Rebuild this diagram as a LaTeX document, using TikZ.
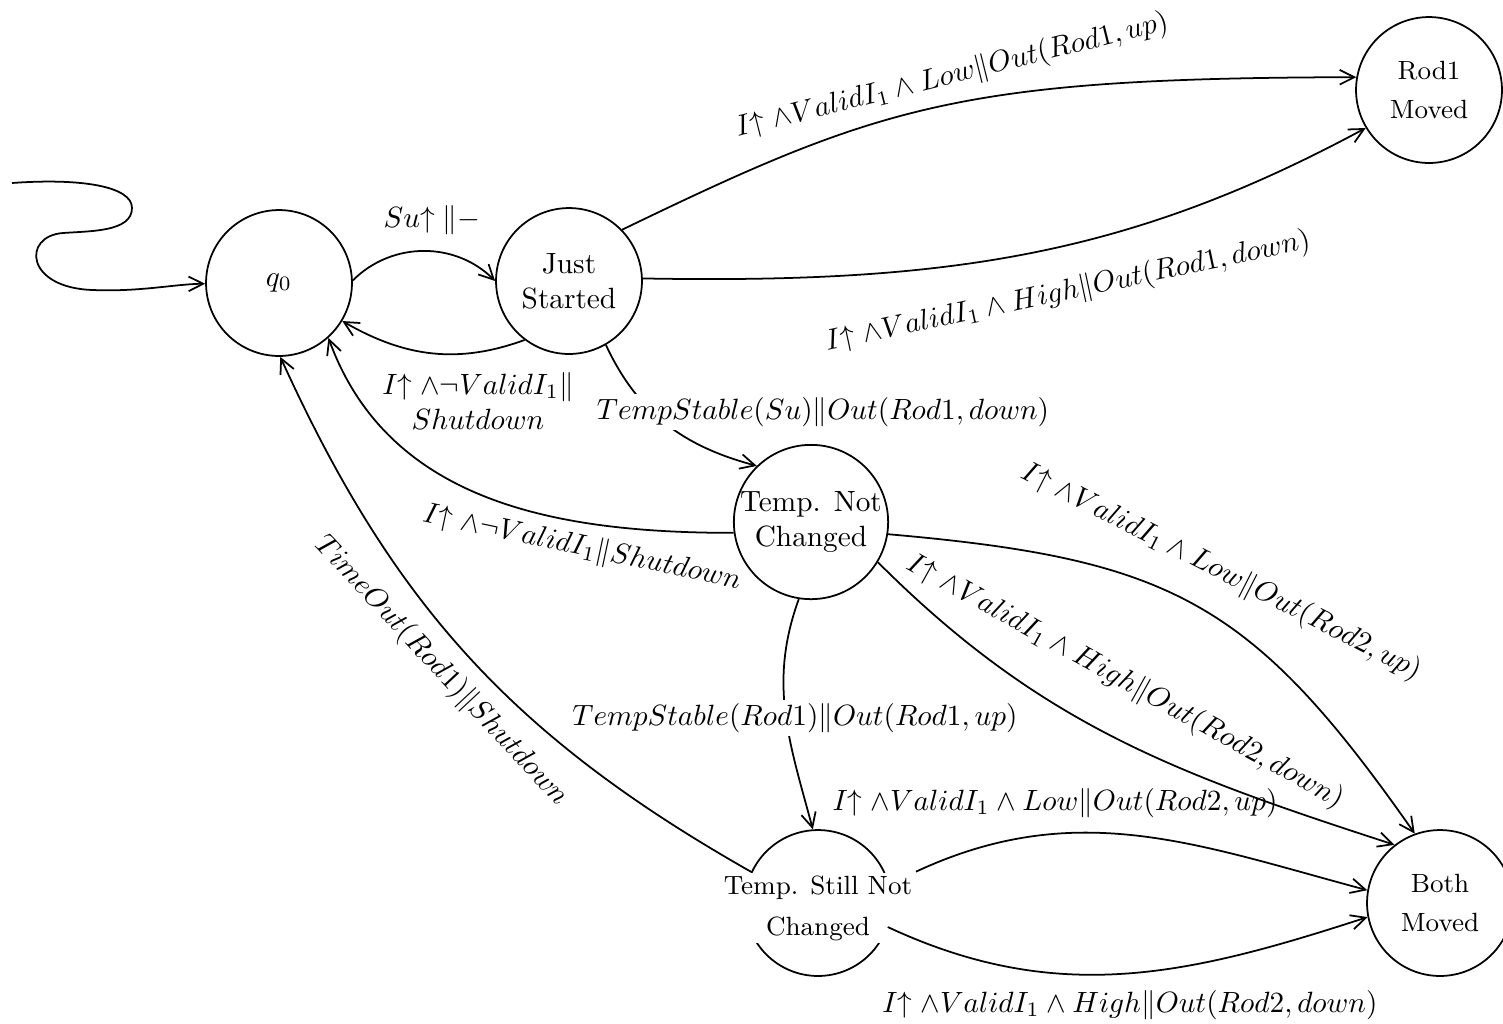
\documentclass[tikz,border=0pt]{standalone}
\usetikzlibrary{arrows.meta}
\newcommand{\Iup}{I\mathord{\uparrow}\;\mathord{\wedge}}
\begin{document}
\begin{tikzpicture}[x=0.012cm,y=0.012cm,semithick,>={Straight Barb[length=5pt,width=5pt]}]
                        \tikzstyle{state}=[circle,draw,minimum size=1.75cm,inner sep=0pt,align=center]
                        \tikzstyle{lbl}=[inner sep=1pt]
                        \useasboundingbox (0,-1023) rectangle (1503,0);
                        % states
                        \node[state] (q0) at (279,-283) {$q_0$};
                        \node[state] (just) at (569,-281) {Just\\Started};
                        \node[state,font=\small] (rod1) at (1429,-90) {Rod1\\[2pt]Moved};
                        \node[state] (notch) at (811,-522) {Temp. Not\\Changed};
                        \node[state] (still) at (818,-903) {};
                        \node[fill=white,inner sep=1pt,align=center,font=\small] (stilltext) at (818,-908) {Temp. Still Not\\[3pt]Changed};
                        \node[state,font=\small] (both) at (1440,-903) {Both\\[2pt]Moved};
                        % start
                        \coordinate (init) at (12,-183);
                        \draw[->] (init) .. controls (80,-178) and (132,-186) .. (132,-208)
                            .. controls (132,-232) and (90,-231) .. (63,-233)
                            .. controls (22,-236) and (25,-288) .. (93,-290)
                            .. controls (140,-292) and (175,-284) .. (q0);
                        % transitions
                        \draw[->] (q0.2) to[out=45,in=135] (just.180);
                        \node[lbl] (l1) at (432,-220) {$Su\mathord{\uparrow}\;\|{-}$};
                        \draw[->] (just.233) to[out=200,in=-30] (q0.-31);
                        \node[lbl,align=center] (l2) at (478,-401) {$\Iup\neg ValidI_1\|$\\$Shutdown$};
                        \draw[->] (just.44) .. controls (880,-105) and (960,-78) .. (rod1.170);
                        \node[lbl,rotate=14] (l3) at (952,-76) {$\Iup ValidI_1\wedge Low\|Out(Rod1,up)$};
                        \draw[->] (just.2) .. controls (950,-284) and (1130,-255) .. (rod1.211);
                        \node[lbl,rotate=12] (l4) at (1068,-292) {$\Iup ValidI_1\wedge High\|Out(Rod1,down)$};
                        \draw[->] (just.-60) to[out=-65,in=165] (notch.134);
                        \node[lbl,fill=white] (l5) at (823,-412) {$TempStable(Su)\|Out(Rod1,down)$};
                        \draw[->] (notch.188) to[out=180,in=-70] (q0.-48);
                        \node[lbl,rotate=-12] (l6) at (582,-548) {$\Iup\neg ValidI_1\|Shutdown$};
                        \draw[->] (still.155) to[bend left=18] (q0.-89);
                        \node[lbl,rotate=-47] (l7) at (441,-671) {$TimeOut(Rod1)\|Shutdown$};
                        \draw[->] (notch.-99) to[out=-110,in=105] (still.94);
                        \node[lbl,fill=white] (l8) at (795,-718) {$TempStable(Rod1)\|Out(Rod1,up)$};
                        \draw[->] (notch.-9) to[out=-5,in=125,looseness=1.2] (both.110);
                        \node[lbl,rotate=-27] (l9) at (1221,-572) {$\Iup ValidI_1\wedge Low\|Out(Rod2,up)$};
                        \draw[->] (notch.-31) to[out=-45,in=162] (both.128);
                        \node[lbl,rotate=-29] (l10) at (1125,-682) {$\Iup ValidI_1\wedge High\|Out(Rod2,down)$};
                        \draw[->] (stilltext.north east) to[out=25,in=165] (both.170);
                        \node[lbl] (l11) at (1055,-803) {$\Iup ValidI_1\wedge Low\|Out(Rod2,up)$};
                        \draw[->] (still.-19) to[out=-25,in=198] (both.191);
                        \node[lbl] (l12) at (1130,-1005) {$\Iup ValidI_1\wedge High\|Out(Rod2,down)$};
                    \end{tikzpicture}
\end{document}
